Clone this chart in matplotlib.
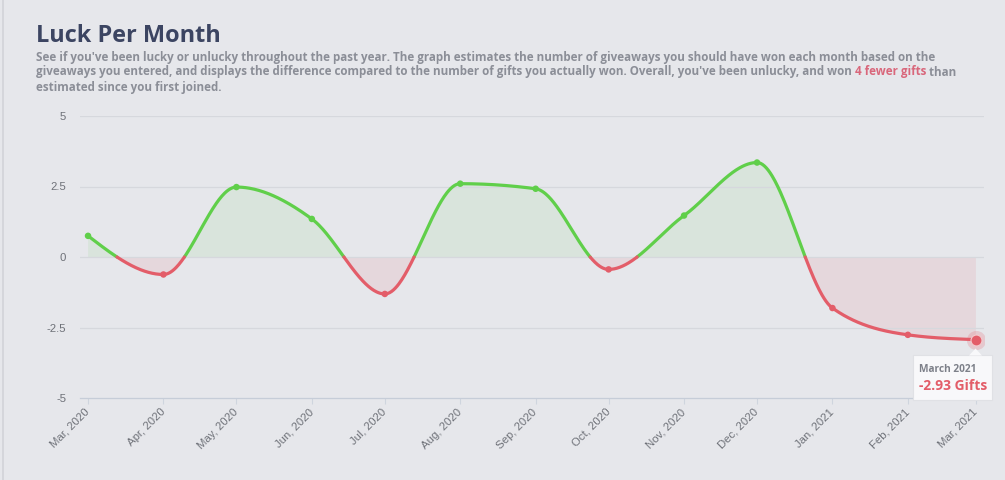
import numpy as np
import matplotlib
matplotlib.use("Agg")
import matplotlib.pyplot as plt
import matplotlib.dates as mdates
from matplotlib.patches import FancyBboxPatch, Polygon
from matplotlib.lines import Line2D

# ---------------- data ----------------
month_starts = ["2020-03-01", "2020-04-01", "2020-05-01", "2020-06-01", "2020-07-01",
                "2020-08-01", "2020-09-01", "2020-10-01", "2020-11-01", "2020-12-01",
                "2021-01-01", "2021-02-01", "2021-03-01"]
tick_labels = ["Mar, 2020", "Apr, 2020", "May, 2020", "Jun, 2020", "Jul, 2020",
               "Aug, 2020", "Sep, 2020", "Oct, 2020", "Nov, 2020", "Dec, 2020",
               "Jan, 2021", "Feb, 2021", "Mar, 2021"]
luck = [0.75, -0.62, 2.48, 1.35, -1.31, 2.60, 2.42, -0.44, 1.47, 3.35, -1.81, -2.76, -2.93]
y_ticks = [-5, -2.5, 0, 2.5, 5]
y_tick_labels = ["-5", "-2.5", "0", "2.5", "5"]

title = "Luck Per Month"
sub_line1 = ("See if you've been lucky or unlucky throughout the past year. The graph estimates "
             "the number of giveaways you should have won each month based on the")
sub_line2a = ("giveaways you entered, and displays the difference compared to the number of gifts "
              "you actually won. Overall, you've been unlucky, and won ")
sub_line2b = "4 fewer gifts"
sub_line2c = " than"
sub_line3 = "estimated since you first joined."
tooltip_title = "March 2021"
tooltip_value = "-2.93 Gifts"

# ---------------- style ----------------
BG = "#e6e7eb"
GREEN = "#60cf4a"
RED = "#e35d69"
TXT = "#6e7178"
W, H = 1005, 480

plt.rcParams['axes.unicode_minus'] = False

def fx(px):
    return px / W

def fy(py):
    return 1 - py / H


def monotone_curve(x, y, n=80):
    x = np.asarray(x, float)
    y = np.asarray(y, float)
    m = len(x)
    h = np.diff(x)
    s = np.diff(y) / h
    t = np.zeros(m)
    for i in range(1, m - 1):
        h0, h1 = h[i - 1], h[i]
        s0, s1 = s[i - 1], s[i]
        p = (s0 * h1 + s1 * h0) / (h0 + h1)
        t[i] = (np.sign(s0) + np.sign(s1)) * min(abs(s0), abs(s1), 0.5 * abs(p))
    t[0] = (3 * s[0] - t[1]) / 2
    t[-1] = (3 * s[-1] - t[-2]) / 2
    xs, ys = [], []
    for i in range(m - 1):
        dx = h[i] / 3
        P0, P1, P2, P3 = y[i], y[i] + dx * t[i], y[i + 1] - dx * t[i + 1], y[i + 1]
        u = np.linspace(0, 1, n, endpoint=(i == m - 2))
        yy = (1 - u) ** 3 * P0 + 3 * (1 - u) ** 2 * u * P1 + 3 * (1 - u) * u ** 2 * P2 + u ** 3 * P3
        xx = x[i] + h[i] * u
        xs.append(xx)
        ys.append(yy)
    return np.concatenate(xs), np.concatenate(ys)


xnum = mdates.date2num(np.array(month_starts, dtype="datetime64[D]"))
xs, ys = monotone_curve(xnum, luck)

# insert zero crossings
X, Y = [xs[0]], [ys[0]]
for i in range(1, len(xs)):
    if ys[i - 1] * ys[i] < 0:
        xc = xs[i - 1] + (xs[i] - xs[i - 1]) * ys[i - 1] / (ys[i - 1] - ys[i])
        X.append(xc)
        Y.append(0.0)
    X.append(xs[i])
    Y.append(ys[i])
X = np.array(X)
Y = np.array(Y)
ypos = np.where(Y >= 0, Y, np.nan)
yneg = np.where(Y <= 0, Y, np.nan)

fig = plt.figure(figsize=(W / 100, H / 100), dpi=100, facecolor=BG)
ax = fig.add_axes([fx(80), fy(398), fx(984) - fx(80), fy(116) - fy(398)])
ax.set_facecolor(BG)

pad_days = 3.3
ax.set_xlim(xnum[0] - pad_days, xnum[-1] + pad_days)
ax.set_ylim(-5, 5)

ax.fill_between(X, Y, 0, where=Y >= 0, color=GREEN, alpha=0.09, linewidth=0, interpolate=True)
ax.fill_between(X, Y, 0, where=Y <= 0, color=RED, alpha=0.11, linewidth=0, interpolate=True)

ax.plot(X, ypos, color=GREEN, lw=2.3, solid_capstyle="round", zorder=4)
ax.plot(X, yneg, color=RED, lw=2.3, solid_capstyle="round", zorder=4)

pt_colors = [GREEN if v >= 0 else RED for v in luck]
ax.scatter(xnum[:-1], luck[:-1], s=22, c=pt_colors[:-1], zorder=5, linewidths=0)
# hovered last point
ax.scatter(xnum[-1:], luck[-1:], s=190, c=RED, alpha=0.22, zorder=5, linewidths=0)
ax.scatter(xnum[-1:], luck[-1:], s=62, c=RED, zorder=6, edgecolors="#f3c9cd", linewidths=0.8)

# grid & axes
for yv in y_ticks[1:]:
    ax.axhline(yv, color="#d6d8dd", lw=0.9, zorder=1)
for side in ["top", "right", "left"]:
    ax.spines[side].set_visible(False)
ax.spines["bottom"].set_color("#c6cdd8")
ax.spines["bottom"].set_linewidth(0.9)

ax.set_yticks(y_ticks, y_tick_labels)
ax.tick_params(axis="y", length=0, pad=10, labelsize=8.2, labelcolor=TXT)
ax.set_xticks(xnum)
ax.set_xticklabels(tick_labels, rotation=45, ha="right", va="center", rotation_mode="anchor")
ax.tick_params(axis="x", length=4.3, width=0.8, color="#cfd5de", pad=4.5, labelsize=8.2, labelcolor=TXT)
for lab in ax.get_xticklabels() + ax.get_yticklabels():
    lab.set_family(["Liberation Sans", "DejaVu Sans"])

# left border line
fig.add_artist(Line2D([fx(3), fx(3)], [0, 1], color="#d2d3d8", lw=1.2, transform=fig.transFigure))

renderer = fig.canvas.get_renderer()

# title
tt = fig.text(fx(36), fy(41.5), title, fontsize=18.5, fontweight="bold", color="#3c4562",
              family="Open Sans", va="baseline", ha="left")
tw = tt.get_window_extent(renderer=renderer).width
tt.set_fontsize(18.5 * (0.5 * (169.0 / tw) + 0.5))

# subtitle, font size chosen so that the first line spans the same width as the reference
SUBC = "#8b8e97"
HIGH = "#d9677b"
probe = fig.text(fx(36), fy(60.5), sub_line1, color=SUBC, fontsize=10, fontweight="bold",
                 family="Open Sans", va="baseline", ha="left")
pw = probe.get_window_extent(renderer=renderer).width
sub_fs = 10 * 903.0 / pw
probe.set_fontsize(sub_fs)
sub_kw = dict(fontsize=sub_fs, fontweight="bold", family="Open Sans", va="baseline", ha="left")
fig.text(fx(36), fy(90.5), sub_line3, color=SUBC, **sub_kw)

xcur = fx(36)
for part, col in [(sub_line2a, SUBC), (sub_line2b, HIGH), (sub_line2c, SUBC)]:
    t = fig.text(xcur, fy(75.5), part, color=col, **sub_kw)
    bb = t.get_window_extent(renderer=renderer)
    xcur = xcur + bb.width / W

# tooltip
box = FancyBboxPatch((fx(913), fy(400)), fx(992) - fx(913), fy(355) - fy(400),
                     boxstyle="square,pad=0", transform=fig.transFigure,
                     facecolor="#f8f8fa", edgecolor="#e0e1e5", lw=0.8, zorder=10)
fig.add_artist(box)
tri = Polygon([[fx(969), fy(355.5)], [fx(975.5), fy(348.5)], [fx(982), fy(355.5)]],
              closed=True, transform=fig.transFigure, facecolor="#f8f8fa",
              edgecolor="none", zorder=11)
fig.add_artist(tri)
fig.text(fx(919), fy(369.5), tooltip_title, fontsize=7.3, fontweight="bold", color="#7d8089",
         family="Open Sans", va="center", ha="left", zorder=12)
fig.text(fx(918.5), fy(385.5), tooltip_value, fontsize=10, fontweight="bold", color=RED,
         family="Open Sans", va="center", ha="left", zorder=12)

fig.savefig("out.png", dpi=100, facecolor=BG)
